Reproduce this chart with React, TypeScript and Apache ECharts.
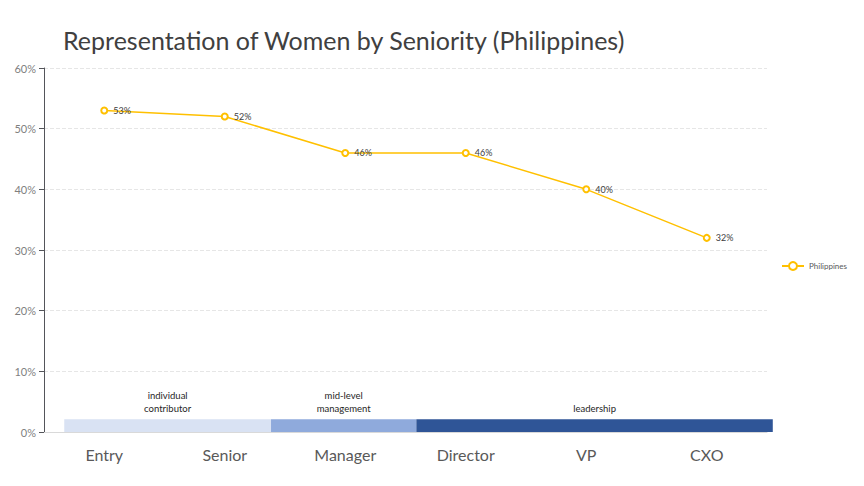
import { useEffect, useRef } from "react";
import * as echarts from "echarts";

const categories = ["Entry", "Senior", "Manager", "Director", "VP", "CXO"];
const philippines = [53, 52, 46, 46, 40, 32];
const yTicks = [0, 10, 20, 30, 40, 50, 60];
// bands: start fraction, end fraction, colour, label
const bands: [number, number, string, string][] = [
  [0.028, 0.314, "#D9E2F3", "individual\ncontributor"],
  [0.314, 0.515, "#8FAADC", "mid-level\nmanagement"],
  [0.515, 1.008, "#2F5597", "leadership"],
];

const App: React.FC = () => {
  const ref = useRef<HTMLDivElement>(null);

  useEffect(() => {
    if (!ref.current) return;
    const chart = echarts.init(ref.current, null, { renderer: "svg" });
    const font = "Lato, 'Open Sans', sans-serif";
    chart.setOption({
      animation: false,
      textStyle: { fontFamily: font },
      title: {
        text: "Representation of Women by Seniority (Philippines)",
        left: 50,
        top: 14,
        textStyle: { fontSize: 25, fontWeight: "normal", color: "#404040", fontFamily: font },
      },
      legend: {
        right: 4,
        top: 248,
        itemWidth: 22,
        itemHeight: 10,
        textStyle: { fontSize: 8, color: "#595959" },
        data: ["Philippines"],
      },
      grid: { left: 36, right: 89, top: 60, bottom: 46 },
      xAxis: [
        {
          type: "category",
          data: categories,
          axisLine: { show: true, lineStyle: { color: "#D9D9D9" } },
          axisTick: { show: false },
          axisLabel: { fontSize: 16, color: "#595959", margin: 14 },
        },
        { type: "value", min: 0, max: 1, show: false },
      ],
      yAxis: {
        type: "value",
        min: 0,
        max: 60,
        interval: 10,
        axisLabel: {
          fontSize: 11,
          color: "#7F7F7F",
          formatter: (v: number) => (yTicks.includes(v) ? v + "%" : ""),
        },
        splitLine: { lineStyle: { color: "#E6E6E6", type: "dashed" } },
      },
      series: [
        {
          type: "custom",
          xAxisIndex: 1,
          yAxisIndex: 0,
          silent: true,
          data: bands.map((b) => [b[0], b[1]]),
          renderItem: (params: any, api: any) => {
            const b = bands[params.dataIndex];
            const p0 = api.coord([api.value(0), 0]);
            const p1 = api.coord([api.value(1), 2.1]);
            return {
              type: "group",
              children: [
                {
                  type: "rect",
                  shape: { x: p0[0], y: p1[1], width: p1[0] - p0[0], height: p0[1] - p1[1] },
                  style: { fill: b[2] },
                },
                {
                  type: "text",
                  x: (p0[0] + p1[0]) / 2,
                  y: p1[1] - 4,
                  style: {
                    text: b[3],
                    fill: "#262626",
                    fontSize: 9.5,
                    fontFamily: font,
                    align: "center",
                    verticalAlign: "bottom",
                    lineHeight: 13,
                  },
                },
              ],
            };
          },
        },
        {
          name: "Philippines",
          type: "line",
          data: philippines,
          symbol: "circle",
          symbolSize: 6,
          itemStyle: { color: "#fff", borderColor: "#FFC000", borderWidth: 2 },
          lineStyle: { color: "#FFC000", width: 1.5 },
          label: {
            show: true,
            position: "right",
            formatter: (p: any) => p.value + "%",
            fontSize: 9,
            color: "#404040",
          },
        },
      ],
    });
    return () => chart.dispose();
  }, []);

  return <div ref={ref} style={{ width: "848px", height: "470px" }} />;
};

export default App;
